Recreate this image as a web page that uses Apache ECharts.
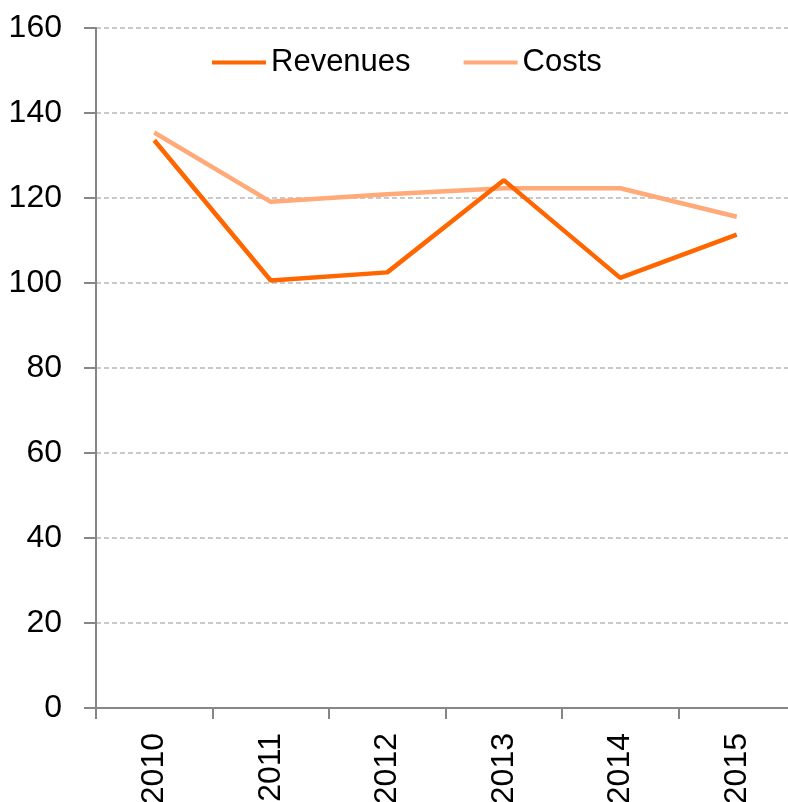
<!DOCTYPE html>
<html>
<head>
<meta charset="utf-8">
<script src="https://cdn.jsdelivr.net/npm/echarts@6/dist/echarts.min.js"></script>
<style>
html,body{margin:0;padding:0;background:#fff;}
#chart{width:788px;height:802px;}
</style>
</head>
<body>
<div id="chart"></div>
<script>
var categories = ['2010','2011','2012','2013','2014','2015'];
var revenues = [133.6, 100.6, 102.5, 124.2, 101.2, 111.4];
var costs = [135.4, 119.1, 120.9, 122.3, 122.3, 115.6];
var yTicks = [0, 20, 40, 60, 80, 100, 120, 140, 160];

var regular = '"Liberation Sans", Arial, sans-serif';

var chart = echarts.init(document.getElementById('chart'), null, {renderer:'canvas'});
chart.setOption({
  animation: false,
  backgroundColor: '#ffffff',
  grid: { left: 96, top: 28, width: 699, bottom: 94, containLabel: false, outerBoundsMode: 'none' },
  legend: {
    left: 212, top: 47, padding: 0,
    itemWidth: 54, itemHeight: 4, itemGap: 53,
    icon: 'rect',
    data: ['Revenues', 'Costs'],
    textStyle: { fontFamily: regular, fontSize: 31, color: '#000' }
  },
  xAxis: {
    type: 'category',
    data: categories,
    boundaryGap: true,
    axisLine: { show: true, lineStyle: { color: '#868686', width: 2 } },
    axisTick: { show: true, length: 11, interval: 0, lineStyle: { color: '#868686', width: 2 } },
    axisLabel: { rotate: 90, margin: 25, fontFamily: regular, fontSize: 32, color: '#000', interval: 0 },
    splitLine: { show: false }
  },
  yAxis: {
    type: 'value',
    min: yTicks[0], max: yTicks[yTicks.length-1], interval: 20,
    axisLine: { show: true, lineStyle: { color: '#868686', width: 2 } },
    axisTick: { show: true, length: 12, lineStyle: { color: '#868686', width: 2 } },
    axisLabel: { margin: 34, fontFamily: regular, fontSize: 32, color: '#000' },
    splitLine: { show: true, lineStyle: { color: '#b8b8b8', width: 1.5, type: [5, 3] } }
  },
  series: [
    { name: 'Revenues', type: 'line', data: revenues, symbol: 'none', z: 4,
      lineStyle: { color: '#ff6600', width: 4.5 }, itemStyle: { color: '#ff6600' } },
    { name: 'Costs', type: 'line', data: costs, symbol: 'none', z: 3,
      lineStyle: { color: '#ffaa78', width: 4.5 }, itemStyle: { color: '#ffaa78' } }
  ]
});
</script>
</body>
</html>
